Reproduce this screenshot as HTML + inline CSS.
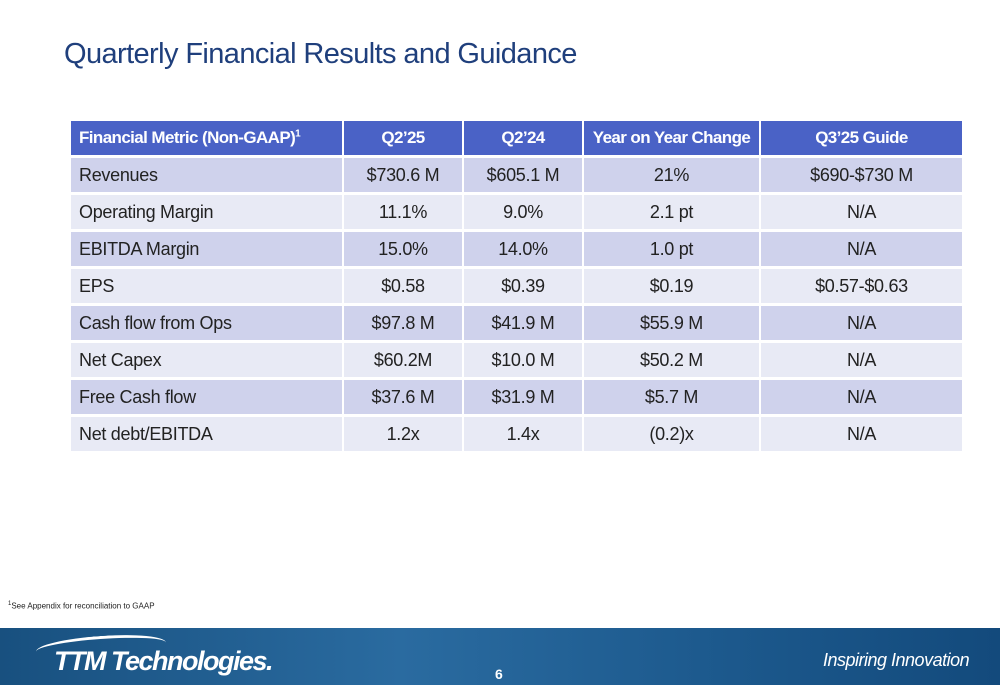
<!DOCTYPE html>
<html><head><meta charset="utf-8"><style>
*{margin:0;padding:0;box-sizing:border-box}
body{width:1000px;height:685px;position:relative;background:#fff;font-family:"Liberation Sans",sans-serif;overflow:hidden}
#title{position:absolute;left:64px;top:38px;font-size:29px;color:#1f3f7c;white-space:nowrap;letter-spacing:-0.6px}
table{position:absolute;left:69px;top:118px;border-collapse:separate;border-spacing:2px 3px;width:893px;table-layout:fixed}
td,th{height:34px;font-size:18px;color:#222;text-align:center;padding:0;white-space:nowrap;letter-spacing:-0.3px}
th{background:#4a62c6;color:#fff;font-weight:bold;font-size:17px;letter-spacing:-0.6px}
td:first-child,th:first-child{text-align:left;padding-left:8px}
tr.o td{background:#cfd2ec}
tr.e td{background:#e8eaf5}
sup{font-size:10px}
#note{position:absolute;left:8px;top:601px;font-size:8px;color:#222;white-space:nowrap}
#footer{position:absolute;left:0;top:628px;width:1000px;height:57px;background:linear-gradient(90deg,#18507f,#2a6ba0 40%,#1d5a8e 70%,#134a7c)}
#logo{position:absolute;left:54px;top:18px;color:#fff;font:italic bold 27px "Liberation Sans",sans-serif;letter-spacing:-1.5px;white-space:nowrap}
#swoosh{position:absolute;left:36px;top:8px;width:130px;height:22px;border-top:3px solid #fff;border-radius:60% 60% 0 0;transform:rotate(-4deg)}
#pg{position:absolute;left:495px;top:38px;color:#fff;font-size:14px;font-weight:bold}
#tag{position:absolute;left:823px;top:22px;color:#fff;font:italic 18px "Liberation Sans",sans-serif;white-space:nowrap;letter-spacing:-0.5px}
</style></head><body>
<div id="title">Quarterly Financial Results and Guidance</div>
<table>
<colgroup><col style="width:271px"><col style="width:118px"><col style="width:118px"><col style="width:175px"><col style="width:201px"></colgroup>
<tr><th>Financial Metric (Non-GAAP)<sup>1</sup></th><th>Q2’25</th><th>Q2’24</th><th>Year on Year Change</th><th>Q3’25 Guide</th></tr>
<tr class="o"><td>Revenues</td><td>$730.6 M</td><td>$605.1 M</td><td>21%</td><td>$690-$730 M</td></tr>
<tr class="e"><td>Operating Margin</td><td>11.1%</td><td>9.0%</td><td>2.1 pt</td><td>N/A</td></tr>
<tr class="o"><td>EBITDA Margin</td><td>15.0%</td><td>14.0%</td><td>1.0 pt</td><td>N/A</td></tr>
<tr class="e"><td>EPS</td><td>$0.58</td><td>$0.39</td><td>$0.19</td><td>$0.57-$0.63</td></tr>
<tr class="o"><td>Cash flow from Ops</td><td>$97.8 M</td><td>$41.9 M</td><td>$55.9 M</td><td>N/A</td></tr>
<tr class="e"><td>Net Capex</td><td>$60.2M</td><td>$10.0 M</td><td>$50.2 M</td><td>N/A</td></tr>
<tr class="o"><td>Free Cash flow</td><td>$37.6 M</td><td>$31.9 M</td><td>$5.7 M</td><td>N/A</td></tr>
<tr class="e"><td>Net debt/EBITDA</td><td>1.2x</td><td>1.4x</td><td>(0.2)x</td><td>N/A</td></tr>
</table>
<div id="note"><sup style="font-size:6px">1</sup>See Appendix for reconciliation to GAAP</div>
<div id="footer">
<div id="swoosh"></div>
<div id="logo">TTM Technologies.</div>
<div id="pg">6</div>
<div id="tag">Inspiring Innovation</div>
</div>
</body></html>
